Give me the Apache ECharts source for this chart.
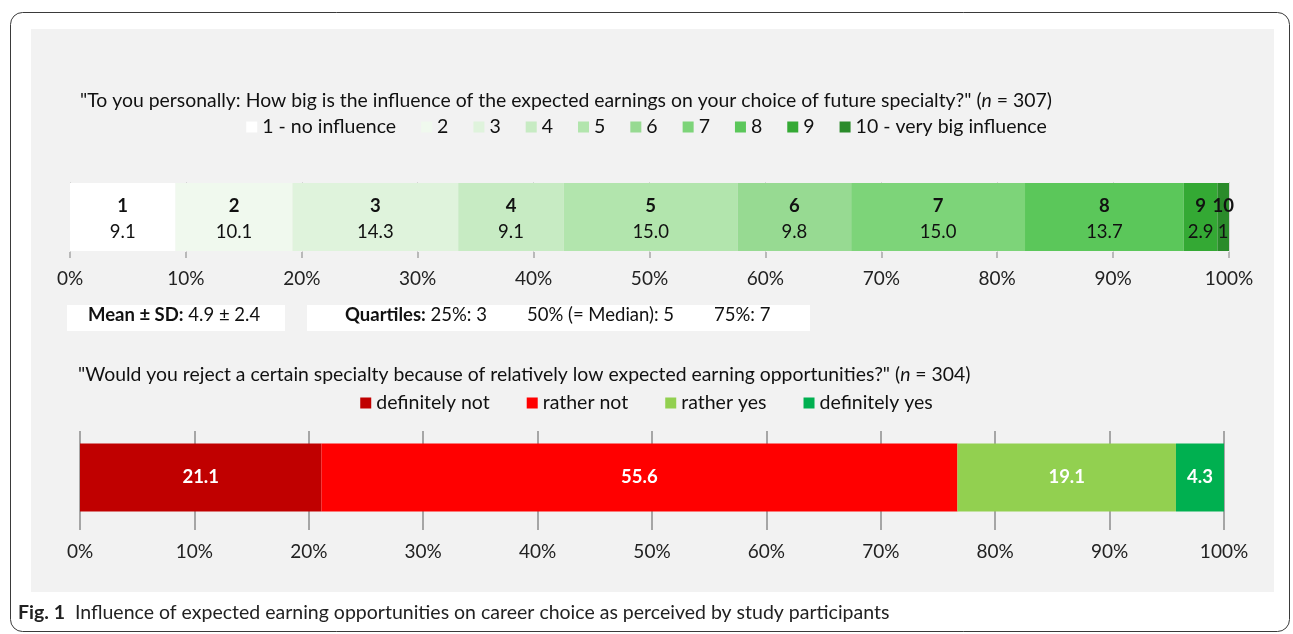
<!DOCTYPE html>
<html lang="en">
<head>
  <meta charset="UTF-8">
  <title>Influence of expected earning opportunities</title>
  <script src="https://cdn.jsdelivr.net/npm/echarts@6/dist/echarts.min.js"></script>
  <style>
    html, body { margin: 0; padding: 0; background: #fff; }
    #chart { width: 1293px; height: 634px; }
  </style>
</head>
<body>
  <div id="chart"></div>
  <script>
    // top question: influence 1..10 (percent of n = 307)
    const topNames = ['1 - no influence', '2', '3', '4', '5', '6', '7', '8', '9', '10 - very big influence'];
    const topCodes = ['1', '2', '3', '4', '5', '6', '7', '8', '9', '10'];
    const topValues = [9.1, 10.1, 14.3, 9.1, 15.0, 9.8, 15.0, 13.7, 2.9, 1.0];
    const topColors = ['#ffffff', '#f0f9ee', '#dff3dc', '#c7ebc3', '#b2e5ad', '#97da92', '#7dd479', '#5bc75a', '#34a934', '#2a8b2a'];

    // bottom question: reject a specialty (percent of n = 304)
    const botNames = ['definitely not', 'rather not', 'rather yes', 'definitely yes'];
    const botValues = [21.1, 55.6, 19.1, 4.3];
    const botColors = ['#c00000', '#ff0000', '#92d050', '#00b050'];

    const axisTicks = [0, 10, 20, 30, 40, 50, 60, 70, 80, 90, 100];
    const meanText = ['Mean ± SD:', '4.9 ± 2.4'];
    const quartText = ['Quartiles:', '25%: 3', '50% (= Median): 5', '75%: 7'];

    const FONT = 'Lato, "Open Sans", sans-serif';

    const chart = echarts.init(document.getElementById('chart'));

    const topSeries = topValues.map((v, i) => ({
      name: topNames[i],
      type: 'bar',
      stack: 'top',
      xAxisIndex: 0,
      yAxisIndex: 0,
      barWidth: 68,
      data: [v],
      itemStyle: { color: topColors[i] },
      label: {
        show: true,
        position: 'inside',
        offset: [0, 2],
        color: '#111',
        fontFamily: FONT,
        fontSize: 18.5,
        lineHeight: 26,
        // the last slice is too narrow for a decimal
        formatter: '{n|' + topCodes[i] + '}\n' + (v < 2 ? Math.round(v) : v.toFixed(1)),
        rich: { n: { fontWeight: 'bold', fontSize: 18.5, fontFamily: FONT, color: '#111', lineHeight: 26 } }
      }
    }));

    const botSeries = botValues.map((v, i) => ({
      name: botNames[i],
      type: 'bar',
      stack: 'bot',
      xAxisIndex: 1,
      yAxisIndex: 1,
      barWidth: 68,
      data: [v],
      itemStyle: { color: botColors[i] },
      label: {
        show: true,
        position: 'inside',
        color: '#fff',
        fontFamily: FONT,
        fontWeight: 'bold',
        fontSize: 18.5,
        formatter: v.toFixed(1)
      }
    }));

    const xAxisBase = {
      type: 'value',
      min: axisTicks[0],
      max: axisTicks[axisTicks.length - 1],
      interval: axisTicks[1] - axisTicks[0],
      axisLabel: { formatter: '{value}%', color: '#222', fontFamily: FONT, fontSize: 19 },
      axisTick: { show: true, inside: false, length: 6 }
    };

    const qTitle = {
      fontFamily: FONT, fontSize: 19.4, fontWeight: 'normal', color: '#111',
      rich: { i: { fontStyle: 'italic', fontFamily: FONT, fontSize: 19.4, color: '#111' } }
    };

    chart.setOption({
      animation: false,
      textStyle: { fontFamily: FONT },
      title: [
        {
          text: '"To you personally: How big is the influence of the expected earnings on your choice of future specialty?" ({i|n} = 307)',
          left: 75, top: 86,
          textStyle: qTitle
        },
        {
          text: '"Would you reject a certain specialty because of relatively low expected earning opportunities?" ({i|n} = 304)',
          left: 73, top: 360,
          textStyle: qTitle
        }
      ],
      legend: [
        {
          data: topNames,
          left: 'center', top: 112,
          icon: 'rect', itemWidth: 11, itemHeight: 11, itemGap: 25,
          textStyle: { fontFamily: FONT, fontSize: 19.5, color: '#111' }
        },
        {
          data: botNames,
          left: 'center', top: 388,
          icon: 'rect', itemWidth: 11, itemHeight: 11, itemGap: 37,
          textStyle: { fontFamily: FONT, fontSize: 19.5, color: '#111' }
        }
      ],
      grid: [
        { left: 70, right: 64, top: 182, height: 70 },
        { left: 80, right: 69, top: 431, height: 93 }
      ],
      xAxis: [
        Object.assign({}, xAxisBase, {
          gridIndex: 0,
          axisLine: { lineStyle: { color: '#a6a6a6', width: 1.5 } },
          axisTick: { show: true, length: 6, lineStyle: { color: '#a6a6a6', width: 1.5 } },
          axisLabel: Object.assign({}, xAxisBase.axisLabel, { margin: 17 }),
          splitLine: { show: true, lineStyle: { color: '#d4d4d4' } }
        }),
        Object.assign({}, xAxisBase, {
          gridIndex: 1,
          axisLine: { lineStyle: { color: '#8c8c8c', width: 1.5 } },
          axisTick: { show: true, length: 6, lineStyle: { color: '#8c8c8c', width: 1.5 } },
          axisLabel: Object.assign({}, xAxisBase.axisLabel, { margin: 18 }),
          splitLine: { show: true, lineStyle: { color: '#8c8c8c', width: 1.5 } }
        })
      ],
      yAxis: [
        { type: 'category', gridIndex: 0, data: ['q1'], show: false },
        { type: 'category', gridIndex: 1, data: ['q2'], show: false }
      ],
      graphic: [
        {
          type: 'rect', z: -10,
          shape: { x: 10.5, y: 12.5, width: 1279, height: 619, r: 12 },
          style: { fill: '#fff', stroke: '#3a3a3a', lineWidth: 1 }
        },
        {
          type: 'rect', z: -9,
          shape: { x: 31, y: 29, width: 1243, height: 563 },
          style: { fill: '#f2f2f2' }
        },
        {
          type: 'rect', z: -8,
          shape: { x: 67, y: 305, width: 218, height: 26 },
          style: { fill: '#fff' }
        },
        {
          type: 'rect', z: -8,
          shape: { x: 307, y: 305, width: 503, height: 26 },
          style: { fill: '#fff' }
        },
        {
          type: 'text', left: 88, top: 306,
          style: {
            text: '{b|' + meanText[0] + '} ' + meanText[1],
            fontFamily: FONT, fontSize: 18.5, fill: '#111',
            rich: { b: { fontWeight: 'bold', fontFamily: FONT, fontSize: 18.5, fill: '#111' } }
          }
        },
        {
          type: 'text', left: 345, top: 306,
          style: {
            text: '{b|' + quartText[0] + '} ' + quartText[1] + '{g|}' + quartText[2] + '{g|}' + quartText[3],
            fontFamily: FONT, fontSize: 18.5, fill: '#111',
            rich: {
              b: { fontWeight: 'bold', fontFamily: FONT, fontSize: 18.5, fill: '#111' },
              g: { width: 40 }
            }
          }
        },
        {
          type: 'text', left: 18, top: 603,
          style: {
            text: '{b|Fig. 1}  Influence of expected earning opportunities on career choice as perceived by study participants',
            fontFamily: FONT, fontSize: 19.5, fill: '#222',
            rich: { b: { fontWeight: 'bold', fontFamily: FONT, fontSize: 19.5, fill: '#222' } }
          }
        }
      ],
      series: topSeries.concat(botSeries)
    });
  </script>
</body>
</html>
